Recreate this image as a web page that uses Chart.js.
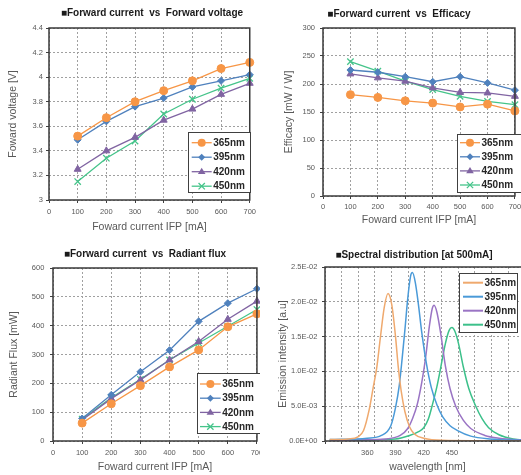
<!DOCTYPE html>
<html><head><meta charset="utf-8">
<script src="https://cdn.jsdelivr.net/npm/chart.js@4/dist/chart.umd.min.js"></script>
<style>
html,body{margin:0;padding:0;background:#fff;overflow:hidden;width:521px;height:475px;}
.panel{position:absolute;}
canvas{display:block;}
</style></head><body>
<div class="panel" style="left:0;top:0"><canvas id="c1" width="260" height="235"></canvas></div>
<div class="panel" style="left:260px;top:0"><canvas id="c2" width="265" height="235"></canvas></div>
<div class="panel" style="left:0;top:240px"><canvas id="c3" width="268" height="235"></canvas></div>
<div class="panel" style="left:260px;top:240px;background:#fff"><canvas id="c4" width="275" height="235"></canvas></div>
<script>
// ---------------- data ----------------
const seriesNames = ['365nm', '395nm', '420nm', '450nm'];
const currents = [100, 200, 300, 400, 500, 600, 700];

const vf365 = [3.52, 3.67, 3.80, 3.89, 3.97, 4.07, 4.12];
const vf395 = [3.49, 3.64, 3.76, 3.83, 3.92, 3.97, 4.02];
const vf420 = [3.25, 3.40, 3.51, 3.65, 3.74, 3.86, 3.95];
const vf450 = [3.15, 3.34, 3.48, 3.70, 3.82, 3.91, 3.99];

const eff365 = [181, 176, 170, 166, 159, 164, 152];
const eff395 = [225, 221, 213, 204, 213, 202, 189];
const eff420 = [218, 211, 205, 193, 185, 184, 178];
const eff450 = [240, 223, 205, 190, 178, 169, 163];

const flux365 = [62, 129, 192, 257, 316, 396, 441];
const flux395 = [78, 160, 240, 315, 415, 478, 528];
const flux420 = [73, 147, 212, 281, 345, 422, 485];
const flux450 = [76, 150, 214, 281, 340, 398, 456];

const spec365nm = [320, 340, 350, 356, 362, 366, 370, 374, 378, 382, 386, 390, 393, 396, 400, 405, 410, 420, 440, 530];
const spec365v  = [0.0002, 0.0003, 0.0006, 0.0015, 0.0045, 0.0075, 0.0105, 0.0150, 0.0192, 0.0212, 0.0196, 0.0150, 0.0105, 0.0072, 0.0042, 0.0020, 0.0010, 0.0004, 0.0001, 0.0000];
const spec395nm = [320, 360, 375, 385, 390, 394, 397, 400, 403, 406, 408, 411, 414, 418, 423, 428, 434, 440, 448, 456, 470, 490, 530];
const spec395v  = [0.0002, 0.0004, 0.0008, 0.0022, 0.0048, 0.0080, 0.0118, 0.0160, 0.0205, 0.0237, 0.0242, 0.0228, 0.0200, 0.0155, 0.0110, 0.0077, 0.0052, 0.0035, 0.0022, 0.0015, 0.0007, 0.0003, 0.0001];
const spec420nm = [320, 380, 395, 403, 408, 413, 418, 422, 426, 429, 431, 434, 438, 443, 448, 454, 462, 470, 485, 500, 530];
const spec420v  = [0.0001, 0.0003, 0.0008, 0.0018, 0.0032, 0.0052, 0.0085, 0.0120, 0.0165, 0.0190, 0.0195, 0.0185, 0.0155, 0.0108, 0.0075, 0.0050, 0.0030, 0.0018, 0.0008, 0.0004, 0.0001];
const spec450nm = [320, 390, 405, 414, 420, 425, 429, 434, 438, 443, 447, 450, 453, 457, 462, 468, 475, 482, 489, 500, 515, 530];
const spec450v  = [0.0001, 0.0003, 0.0008, 0.0013, 0.0019, 0.0032, 0.0051, 0.0078, 0.0105, 0.0140, 0.0159, 0.0163, 0.0158, 0.0140, 0.0107, 0.0075, 0.0051, 0.0032, 0.0019, 0.0009, 0.0003, 0.0001];

const specXTickLabels = [360, 390, 420, 450];
const specYTicks = [0, 0.005, 0.01, 0.015, 0.02, 0.025];
const specYTickLabels = ['0.0E+00', '5.0E-03', '1.0E-02', '1.5E-02', '2.0E-02', '2.5E-02'];

// ---------------- styles ----------------
const FONT = '"Liberation Sans", Arial, sans-serif';
const tickFont = {family: FONT, size: 7.5};
const axisTitleFont = {family: FONT, size: 10.5};
const gridColor = '#a0a0a0';
const gridDash = [2, 2];
const colors = ['#f79646', '#4f81bd', '#8064a2', '#45c48a'];
const specColors = ['#efa96e', '#4a9ad8', '#9a74c4', '#3cc08a'];
const pointStyles = ['circle', 'rectRot', 'triangle', 'crossRot'];
const pointRadii = [4, 3.5, 4, 4.5];

function marker(ctx, style, x, y, r, color) {
  ctx.save();
  ctx.fillStyle = color; ctx.strokeStyle = color; ctx.lineWidth = 1.3;
  ctx.beginPath();
  if (style === 'circle') { ctx.arc(x, y, r, 0, Math.PI * 2); ctx.fill(); }
  else if (style === 'rectRot') { ctx.moveTo(x, y - r); ctx.lineTo(x + r, y); ctx.lineTo(x, y + r); ctx.lineTo(x - r, y); ctx.closePath(); ctx.fill(); }
  else if (style === 'triangle') { ctx.moveTo(x, y - r); ctx.lineTo(x + r * 0.95, y + r * 0.6); ctx.lineTo(x - r * 0.95, y + r * 0.6); ctx.closePath(); ctx.fill(); }
  else if (style === 'crossRot') { const d = r * 0.7; ctx.moveTo(x - d, y - d); ctx.lineTo(x + d, y + d); ctx.moveTo(x + d, y - d); ctx.lineTo(x - d, y + d); ctx.stroke(); }
  ctx.restore();
}

const decor = {
  id: 'decor',
  afterDatasetsDraw(chart, args, o) {
    const {ctx, chartArea: a} = chart;
    ctx.save();
    ctx.strokeStyle = '#3a3a3a'; ctx.lineWidth = 1.5;
    ctx.strokeRect(a.left, a.top, a.right - a.left, a.bottom - a.top);
    ctx.restore();
  },
  afterDraw(chart, args, o) {
    const ctx = chart.ctx;
    ctx.save();
    ctx.font = 'bold 10px ' + FONT; ctx.fillStyle = '#1a1a1a';
    ctx.textAlign = 'center'; ctx.textBaseline = 'middle';
    ctx.fillText(o.title, o.titleX, o.titleY);
    const L = o.legend;
    ctx.fillStyle = '#fff'; ctx.fillRect(L.x, L.y, L.w, L.h);
    ctx.strokeStyle = '#404040'; ctx.lineWidth = 1;
    ctx.strokeRect(L.x + 0.5, L.y + 0.5, L.w, L.h);
    chart.data.datasets.forEach((ds, i) => {
      const yy = L.y + L.first + i * L.gap;
      const x0 = L.x + L.lx;
      ctx.strokeStyle = ds.borderColor; ctx.lineWidth = L.lw;
      ctx.beginPath(); ctx.moveTo(x0, yy); ctx.lineTo(x0 + L.len, yy); ctx.stroke();
      if (L.markers) marker(ctx, pointStyles[i], x0 + L.len / 2, yy, pointRadii[i], ds.borderColor);
      ctx.fillStyle = '#262626'; ctx.font = 'bold 10px ' + FONT;
      ctx.textAlign = 'left'; ctx.textBaseline = 'middle';
      ctx.fillText(ds.label, x0 + L.len + 1.5, yy + 0.5);
    });
    ctx.restore();
  }
};

function currentX(height, tickPad, titleBottom) {
  return {
    type: 'linear', min: 0, max: 700,
    ticks: {stepSize: 100, font: tickFont, color: '#595959', padding: tickPad, maxRotation: 0, autoSkip: false},
    grid: {color: gridColor, drawTicks: true, tickLength: 3, tickColor: '#404040'},
    border: {display: false, dash: gridDash},
    title: {display: true, text: 'Foward current IFP [mA]', font: axisTitleFont, color: '#595959', padding: {top: 0, bottom: titleBottom}},
    afterFit: s => { s.height = height; }
  };
}
function valueY(min, max, step, width, tickPad, title, titleTop, fmt) {
  return {
    type: 'linear', min: min, max: max,
    ticks: {stepSize: step, font: tickFont, color: '#595959', padding: tickPad, callback: fmt},
    grid: {color: gridColor, drawTicks: true, tickLength: 3, tickColor: '#404040'},
    border: {display: false, dash: gridDash},
    title: {display: true, text: title, font: axisTitleFont, color: '#595959', padding: {top: titleTop, bottom: 0}},
    afterFit: s => { s.width = width; }
  };
}
function seriesSets(list) {
  return list.map((vals, i) => ({
    label: seriesNames[i],
    data: currents.map((c, k) => ({x: c, y: vals[k]})),
    borderColor: colors[i], backgroundColor: colors[i],
    borderWidth: 1.3, pointStyle: pointStyles[i], pointRadius: pointRadii[i],
    pointBorderWidth: i === 3 ? 1.3 : 1, pointBackgroundColor: colors[i], pointBorderColor: colors[i],
    tension: 0, clip: false
  }));
}
const baseOpts = {responsive: false, animation: false, events: []};

new Chart(document.getElementById('c1'), {
  type: 'line',
  data: {datasets: seriesSets([vf365, vf395, vf420, vf450])},
  options: Object.assign({}, baseOpts, {
    layout: {padding: {top: 28, right: 8, left: 0, bottom: 0}},
    scales: {
      x: currentX(35, 4, 2),
      y: valueY(3, 4.4, 0.2, 49, 3, 'Foward voltage [V]', 7, v => String(+v.toFixed(1)))
    },
    plugins: {legend: {display: false}, tooltip: {enabled: false},
      decor: {title: '\u25A0Forward current  vs  Forward voltage', titleX: 152, titleY: 13,
        legend: {x: 188, y: 132, w: 62, h: 60, first: 10.7, gap: 14.5, lx: 3.7, len: 20, lw: 1.3, markers: true}}}
  }),
  plugins: [decor]
});

new Chart(document.getElementById('c2'), {
  type: 'line',
  data: {datasets: seriesSets([eff365, eff395, eff420, eff450])},
  options: Object.assign({}, baseOpts, {
    layout: {padding: {top: 28, right: 8, left: 0, bottom: 0}},
    scales: {
      x: currentX(39, 3.8, 8.7),
      y: valueY(0, 300, 50, 63, 5, 'Efficacy [mW / W]', 23, v => String(v))
    },
    plugins: {legend: {display: false}, tooltip: {enabled: false},
      decor: {title: '\u25A0Forward current  vs  Efficacy', titleX: 139, titleY: 14,
        legend: {x: 197, y: 134, w: 64, h: 58, first: 8.7, gap: 14.1, lx: 3, len: 20, lw: 1.3, markers: true}}}
  }),
  plugins: [decor]
});

new Chart(document.getElementById('c3'), {
  type: 'line',
  data: {datasets: seriesSets([flux365, flux395, flux420, flux450])},
  options: Object.assign({}, baseOpts, {
    layout: {padding: {top: 28, right: 9, left: 0, bottom: 0}},
    scales: {
      x: currentX(34, 4.8, 2),
      y: valueY(0, 600, 100, 53, 5.7, 'Radiant Flux [mW]', 7.7, v => String(v))
    },
    plugins: {legend: {display: false}, tooltip: {enabled: false},
      decor: {title: '\u25A0Forward current  vs  Radiant flux', titleX: 145, titleY: 14,
        legend: {x: 197, y: 133, w: 63, h: 60, first: 11, gap: 14.2, lx: 3, len: 20.7, lw: 1.3, markers: true}}}
  }),
  plugins: [decor]
});

const specXMin = 315, specXMax = 533, specGridStep = 17.72;
const specLists = [[spec365nm, spec365v], [spec395nm, spec395v], [spec420nm, spec420v], [spec450nm, spec450v]];
new Chart(document.getElementById('c4'), {
  type: 'line',
  data: {datasets: specLists.map((p, i) => ({
    label: seriesNames[i],
    data: p[0].map((w, k) => ({x: w, y: p[1][k]})),
    borderColor: specColors[i], backgroundColor: specColors[i],
    borderWidth: 1.5, pointRadius: 0, tension: 0.4, cubicInterpolationMode: 'monotone'
  }))},
  options: Object.assign({}, baseOpts, {
    layout: {padding: {top: 27, right: 5, left: 0, bottom: 0}},
    scales: {
      x: {
        type: 'linear', min: specXMin, max: specXMax,
        ticks: {display: false},
        grid: {color: gridColor, drawTicks: true, tickLength: 3, tickColor: '#404040'},
        border: {display: false, dash: gridDash},
        afterBuildTicks: s => { const t = []; for (let v = specXMin; v <= specXMax + 1e-6; v += specGridStep) t.push({value: v}); s.ticks = t; },
        afterFit: s => { s.height = 0; }
      },
      xl: {
        type: 'linear', position: 'bottom', min: specXMin, max: specXMax,
        ticks: {font: tickFont, color: '#595959', padding: 7.5, maxRotation: 0, autoSkip: false},
        grid: {display: false, drawTicks: false},
        border: {display: false},
        afterBuildTicks: s => { s.ticks = specXTickLabels.map(v => ({value: v})); },
        title: {display: true, text: 'wavelength [nm]', font: axisTitleFont, color: '#595959', padding: {top: 0, bottom: 2}},
        afterFit: s => { s.height = 34; }
      },
      y: {
        type: 'linear', min: 0, max: 0.025,
        afterBuildTicks: s => { s.ticks = specYTicks.map(v => ({value: v})); },
        ticks: {font: tickFont, color: '#595959', padding: 4.7, callback: (v, i) => specYTickLabels[i]},
        grid: {color: gridColor, drawTicks: true, tickLength: 3, tickColor: '#404040'},
        border: {display: false, dash: gridDash},
        title: {display: true, text: 'Emission intensity [a.u]', font: axisTitleFont, color: '#595959', padding: {top: 16.4, bottom: 0}},
        afterFit: s => { s.width = 65; }
      }
    },
    plugins: {legend: {display: false}, tooltip: {enabled: false},
      decor: {title: '\u25A0Spectral distribution [at 500mA]', titleX: 154, titleY: 15,
        legend: {x: 199, y: 33, w: 58, h: 59, first: 9.7, gap: 14, lx: 4, len: 20, lw: 2, markers: false}}}
  }),
  plugins: [decor]
});
</script>
</body></html>
